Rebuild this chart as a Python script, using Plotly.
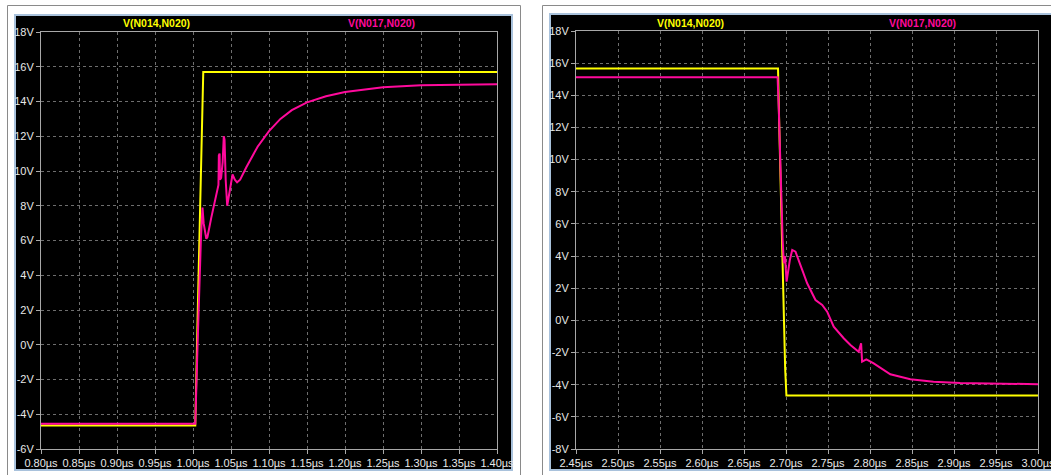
import plotly.graph_objects as go

# ---------------- data ----------------
# Left window: turn-on transient (time in µs, volts)
left_t_yellow = [0.80, 1.003, 1.0055, 1.008, 1.0105, 1.0125, 1.0135, 1.40]
left_v_yellow = [-4.65, -4.65, 0.5, 5.5, 10.0, 13.5, 15.7, 15.7]

left_t_magenta = [0.80, 1.003, 1.006, 1.0085, 1.0105, 1.0125, 1.014, 1.0175, 1.019, 1.024,
                  1.030, 1.0335, 1.034, 1.035, 1.0355, 1.037, 1.039, 1.0405, 1.0415, 1.043,
                  1.045, 1.0475, 1.050, 1.052, 1.055, 1.058, 1.062, 1.070, 1.085, 1.100,
                  1.115, 1.130, 1.150, 1.175, 1.200, 1.250, 1.300, 1.350, 1.400]
left_v_magenta = [-4.55, -4.55, 0.0, 3.9, 6.2, 7.9, 7.0, 6.1, 6.2, 7.3,
                  8.6, 9.2, 10.9, 11.0, 9.5, 9.6, 10.5, 12.0, 11.8, 9.5,
                  8.0, 8.7, 9.5, 9.8, 9.5, 9.35, 9.5, 10.2, 11.4, 12.3,
                  13.0, 13.5, 13.95, 14.3, 14.55, 14.82, 14.93, 14.98, 15.0]

# Right window: turn-off transient
right_t_yellow = [2.45, 2.6905, 2.692, 2.6945, 2.697, 2.699, 2.7005, 3.00]
right_v_yellow = [15.67, 15.67, 12.0, 6.0, 0.0, -3.0, -4.68, -4.68]

right_t_magenta = [2.45, 2.690, 2.6915, 2.694, 2.696, 2.6974, 2.6988, 2.7007, 2.7046, 2.7074,
                   2.7113, 2.7193, 2.7252, 2.7351, 2.7431, 2.749, 2.7568, 2.7687, 2.7767, 2.7865,
                   2.7894, 2.7906, 2.7957, 2.8044, 2.8242, 2.848, 2.8756, 2.9074, 2.9469, 3.00]
right_v_magenta = [15.13, 15.13, 13.0, 8.0, 5.0, 3.55, 4.0, 2.41, 3.76, 4.38,
                   4.27, 3.14, 2.31, 1.27, 0.96, 0.54, -0.39, -1.11, -1.53, -1.95,
                   -1.43, -2.57, -2.42, -2.67, -3.35, -3.66, -3.81, -3.89, -3.93, -3.97]

left_xticks = [0.80, 0.85, 0.90, 0.95, 1.00, 1.05, 1.10, 1.15, 1.20, 1.25, 1.30, 1.35, 1.40]
right_xticks = [2.45, 2.50, 2.55, 2.60, 2.65, 2.70, 2.75, 2.80, 2.85, 2.90, 2.95, 3.00]
left_yticks = list(range(-6, 19, 2))
right_yticks = list(range(-8, 19, 2))

name_a = "V(N014,N020)"
name_b = "V(N017,N020)"

# ---------------- styling ----------------
W, H = 1051, 475
YELLOW = "#ffff00"
MAGENTA = "#ff0a9c"
AXIS = "#a8a8a8"
GRID = "#6e6e6e"
TXT = "#e8e8e8"
FONT = "Liberation Sans, Arial, sans-serif"
FS = 11


def px(x):
    return min(max(x / W, 0.0), 1.0)


def py(y):
    return min(max(1 - y / H, 0.0), 1.0)


fig = go.Figure()
fig.add_trace(go.Scatter(x=left_t_yellow, y=left_v_yellow, mode="lines",
                         line=dict(color=YELLOW, width=2), xaxis="x", yaxis="y", name=name_a))
fig.add_trace(go.Scatter(x=left_t_magenta, y=left_v_magenta, mode="lines",
                         line=dict(color=MAGENTA, width=2), xaxis="x", yaxis="y", name=name_b))
fig.add_trace(go.Scatter(x=right_t_yellow, y=right_v_yellow, mode="lines",
                         line=dict(color=YELLOW, width=2), xaxis="x2", yaxis="y2", name=name_a))
fig.add_trace(go.Scatter(x=right_t_magenta, y=right_v_magenta, mode="lines",
                         line=dict(color=MAGENTA, width=2), xaxis="x2", yaxis="y2", name=name_b))


def xaxis(dom, ticks, rng, anchor):
    return dict(domain=dom, range=rng, anchor=anchor,
                tickmode="array", tickvals=ticks,
                ticktext=[f"{t:.2f}µs" for t in ticks],
                showline=True, linecolor=AXIS, linewidth=1, mirror=True,
                ticks="outside", ticklen=4, tickcolor=AXIS,
                showgrid=True, gridcolor=GRID, griddash="3px,3px", gridwidth=1,
                zeroline=False, tickfont=dict(family=FONT, size=FS, color=TXT),
                ticklabeloverflow="allow",
                fixedrange=True, automargin=False)


def yaxis(dom, ticks, rng, anchor):
    return dict(domain=dom, range=rng, anchor=anchor,
                tickmode="array", tickvals=ticks,
                ticktext=[f"{t}V" for t in ticks],
                showline=True, linecolor=AXIS, linewidth=1, mirror=True,
                ticks="outside", ticklen=4, tickcolor=AXIS,
                showgrid=True, gridcolor=GRID, griddash="3px,3px", gridwidth=1,
                zeroline=False, tickfont=dict(family=FONT, size=FS, color=TXT),
                ticklabeloverflow="allow",
                fixedrange=True, automargin=False)


def line(x0, y0, x1, y1, color, width=1):
    return dict(type="line", xref="paper", yref="paper", x0=px(x0), y0=py(y0),
                x1=px(x1), y1=py(y1), line=dict(color=color, width=width), layer="below")


def rect(x0, y0, x1, y1, fill):
    return dict(type="rect", xref="paper", yref="paper", x0=px(x0), x1=px(x1),
                y0=py(y1), y1=py(y0), line=dict(width=0), fillcolor=fill, layer="below")


FRAME = "#8a8a8a"
EDGE = "#a9c2dc"
shapes = [
    # window frames (left, top, right sides)
    line(7.5, 475, 7.5, 5.5, FRAME), line(7.5, 5.5, 520.5, 5.5, FRAME), line(520.5, 5.5, 520.5, 475, FRAME),
    line(542.5, 475, 542.5, 5.5, FRAME), line(542.5, 5.5, 1051, 5.5, FRAME),
    # black plot panes with light blue edges
    rect(14, 14, 513, 471, EDGE),
    rect(16, 16, 511, 469, "black"),
    rect(549, 13, 1051, 471, EDGE),
    rect(551, 15, 1051, 469, "black"),
]


def title(x, text, color):
    return dict(xref="paper", yref="paper", x=px(x), y=py(23), text=f"<b>{text}</b>",
                showarrow=False, xanchor="center", yanchor="middle",
                font=dict(family=FONT, size=10.5, color=color))


annotations = [
    title(156, name_a, YELLOW), title(381, name_b, MAGENTA),
    title(690, name_a, YELLOW), title(922, name_b, MAGENTA),
]

fig.update_layout(
    width=W, height=H, margin=dict(l=0, r=0, t=0, b=0, pad=0),
    paper_bgcolor="white", plot_bgcolor="black", showlegend=False,
    xaxis=xaxis([px(41), px(497)], left_xticks, [0.80, 1.40], "y"),
    yaxis=yaxis([py(449), py(32)], left_yticks, [-6, 18], "x"),
    xaxis2=xaxis([px(576), px(1038)], right_xticks, [2.45, 3.00], "y2"),
    yaxis2=yaxis([py(449), py(31)], right_yticks, [-8, 18], "x2"),
    shapes=shapes, annotations=annotations,
)

fig.write_html("out.html")
